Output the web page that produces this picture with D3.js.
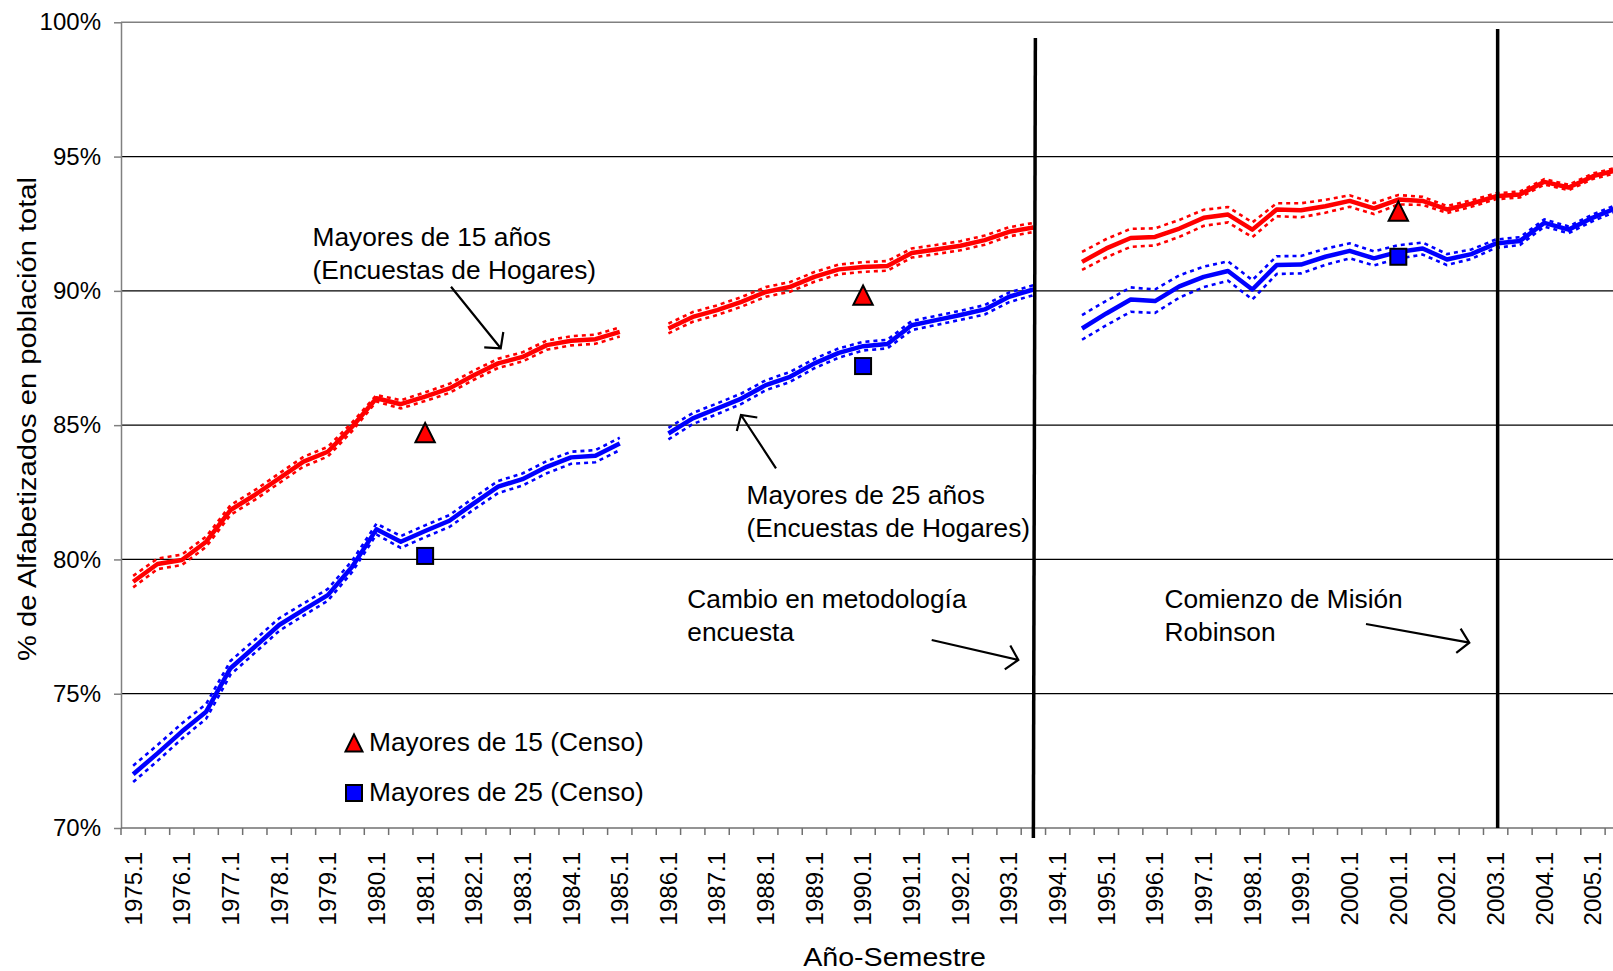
<!DOCTYPE html>
<html><head><meta charset="utf-8">
<script src="https://cdn.jsdelivr.net/npm/d3@7"></script>
<style>
body{margin:0;background:#fff}
svg{display:block}
text{font-family:"Liberation Sans",Arial,Helvetica,sans-serif;fill:#000}
</style>
</head><body>
<svg id="chart" width="1613" height="971"></svg>
<script>
// ---------------- DATA ----------------
const categories = [
 "1975.1","1975.2","1976.1","1976.2","1977.1","1977.2","1978.1","1978.2","1979.1","1979.2",
 "1980.1","1980.2","1981.1","1981.2","1982.1","1982.2","1983.1","1983.2","1984.1","1984.2",
 "1985.1","1985.2","1986.1","1986.2","1987.1","1987.2","1988.1","1988.2","1989.1","1989.2",
 "1990.1","1990.2","1991.1","1991.2","1992.1","1992.2","1993.1","1993.2","1994.1","1994.2",
 "1995.1","1995.2","1996.1","1996.2","1997.1","1997.2","1998.1","1998.2","1999.1","1999.2",
 "2000.1","2000.2","2001.1","2001.2","2002.1","2002.2","2003.1","2003.2","2004.1","2004.2",
 "2005.1","2005.2"];

const tickLabels = ["1975.1","1976.1","1977.1","1978.1","1979.1","1980.1","1981.1","1982.1","1983.1","1984.1",
 "1985.1","1986.1","1987.1","1988.1","1989.1","1990.1","1991.1","1992.1","1993.1","1994.1","1995.1",
 "1996.1","1997.1","1998.1","1999.1","2000.1","2001.1","2002.1","2003.1","2004.1","2005.1"];

const yTicks = [70, 75, 80, 85, 90, 95, 100];

// Mayores de 15 años (Encuestas de Hogares)
const may15 = [79.17,79.83,79.98,80.66,81.84,82.40,83.02,83.64,84.01,84.94,
 86.00,85.78,86.06,86.37,86.86,87.30,87.54,87.98,88.14,88.20,
 88.47,null,88.60,89.03,89.28,89.59,89.96,90.15,90.52,90.80,
 90.89,90.93,91.41,91.54,91.68,91.89,92.20,92.36,null,91.08,
 91.58,91.97,92.01,92.32,92.72,92.84,92.28,93.03,93.00,93.15,
 93.35,93.07,93.40,93.35,93.03,93.25,93.52,93.59,94.06,93.85,
 94.27,94.50];
const may15Sup = [79.39,80.03,80.18,80.85,82.02,82.58,83.20,83.82,84.19,85.10,
 86.12,85.93,86.22,86.54,87.03,87.47,87.71,88.15,88.31,88.37,
 88.64,null,88.78,89.21,89.46,89.77,90.14,90.33,90.70,90.98,
 91.07,91.11,91.58,91.71,91.85,92.06,92.37,92.53,null,91.45,
 91.93,92.31,92.33,92.64,93.02,93.12,92.55,93.26,93.26,93.39,
 93.56,93.27,93.57,93.50,93.16,93.37,93.63,93.70,94.16,93.95,
 94.37,94.60];
const may15Inf = [78.96,79.64,79.79,80.47,81.66,82.22,82.84,83.46,83.83,84.78,
 85.88,85.62,85.90,86.20,86.69,87.13,87.37,87.81,87.97,88.03,
 88.30,null,88.42,88.85,89.10,89.41,89.78,89.97,90.34,90.62,
 90.71,90.75,91.24,91.37,91.51,91.72,92.03,92.19,null,90.78,
 91.25,91.64,91.69,92.01,92.42,92.55,92.00,92.78,92.74,92.91,
 93.13,92.86,93.22,93.20,92.90,93.13,93.41,93.48,93.96,93.75,
 94.17,94.40];

// Mayores de 25 años (Encuestas de Hogares)
const may25 = [72.00,72.78,73.59,74.33,75.95,76.75,77.56,78.12,78.67,79.73,
 81.12,80.66,81.06,81.44,82.09,82.71,82.99,83.45,83.80,83.86,
 84.32,null,84.69,85.25,85.62,85.99,86.49,86.80,87.30,87.69,
 87.94,88.02,88.72,88.91,89.10,89.31,89.78,90.05,null,88.60,
 89.16,89.68,89.62,90.17,90.52,90.74,90.05,90.96,90.98,91.27,
 91.49,91.21,91.45,91.58,91.17,91.37,91.76,91.86,92.53,92.28,
 92.73,93.10];
const may25Sup = [72.32,73.09,73.89,74.62,76.22,77.01,77.81,78.36,78.90,79.95,
 81.33,80.87,81.27,81.65,82.30,82.92,83.20,83.66,84.01,84.07,
 84.53,null,84.90,85.45,85.81,86.18,86.67,86.98,87.47,87.86,
 88.10,88.18,88.88,89.07,89.26,89.47,89.94,90.21,null,89.10,
 89.63,90.13,90.05,90.58,90.90,91.10,90.40,91.29,91.30,91.57,
 91.77,91.47,91.70,91.80,91.37,91.54,91.91,92.00,92.66,92.40,
 92.85,93.22];
const may25Inf = [71.71,72.50,73.32,74.07,75.71,76.52,77.34,77.91,78.46,79.53,
 80.93,80.43,80.83,81.21,81.86,82.47,82.75,83.21,83.56,83.62,
 84.07,null,84.47,85.04,85.41,85.79,86.30,86.61,87.12,87.51,
 87.78,87.86,88.54,88.73,88.92,89.12,89.58,89.84,null,88.18,
 88.72,89.22,89.18,89.75,90.14,90.38,89.68,90.63,90.65,90.97,
 91.21,90.95,91.20,91.35,90.96,91.19,91.60,91.71,92.39,92.15,
 92.60,92.97];

// Censos
const censoCats = ["1981.1", "1990.1", "2001.1"];
const censo15 = [84.72, 89.84, 92.97];
const censo25 = [80.13, 87.20, 91.27];

// Event markers (vertical lines)
const eventCats = ["1993.2", "2003.1"];

// ---------------- CHART ----------------
const FONT = '"Liberation Sans",Arial,Helvetica,sans-serif';
const RED = "#ff0000", BLUE = "#0000ff";
const M = {left: 121, top: 22.3, bottom: 828};
const step = 24.33;
const svg = d3.select("#chart");

const x = d3.scaleBand().domain(categories)
  .range([M.left, M.left + step * categories.length]).padding(0);
const y = d3.scaleLinear().domain([70, 100]).range([M.bottom, M.top]);
const cx = c => x(c) + x.bandwidth() / 2;
const xEnd = x.range()[1];

// gridlines
svg.append("g").selectAll("line")
  .data(yTicks.filter(v => v > 70 && v < 100)).join("line")
  .attr("x1", M.left).attr("x2", xEnd)
  .attr("y1", d => y(d)).attr("y2", d => y(d))
  .attr("stroke", "#000").attr("stroke-width", 1.3);
// top border of plot area
svg.append("line").attr("x1", M.left).attr("x2", xEnd)
  .attr("y1", y(100)).attr("y2", y(100))
  .attr("stroke", "#808080").attr("stroke-width", 1.5);

// y axis
const gy = svg.append("g").attr("transform", `translate(${M.left},0)`)
  .call(d3.axisLeft(y).tickValues(yTicks).tickFormat(d => d + "%")
        .tickSize(7).tickSizeOuter(0).tickPadding(13));
gy.attr("font-size", 24).attr("font-family", FONT);
gy.select(".domain").attr("stroke", "#808080").attr("stroke-width", 1.5);
gy.selectAll(".tick line").attr("stroke", "#808080").attr("stroke-width", 1.5);
gy.selectAll(".tick text").attr("fill", "#000");

// x axis (labels)
const gx = svg.append("g").attr("transform", `translate(0,${M.bottom})`)
  .call(d3.axisBottom(x).tickValues(tickLabels).tickSize(0).tickPadding(0));
gx.attr("font-size", 24).attr("font-family", FONT);
gx.select(".domain").remove();
gx.selectAll(".tick text")
  .attr("x", 0).attr("y", 0).attr("dy", "0.35em")
  .attr("text-anchor", "end").attr("fill", "#000")
  .attr("transform", "translate(0,24) rotate(-90)");
// x axis line and tick marks between categories
svg.append("line").attr("x1", M.left).attr("x2", xEnd)
  .attr("y1", M.bottom).attr("y2", M.bottom)
  .attr("stroke", "#707070").attr("stroke-width", 1.5);
svg.append("g").selectAll("line")
  .data(categories.concat(["__end"])).join("line")
  .attr("x1", d => d === "__end" ? xEnd : x(d))
  .attr("x2", d => d === "__end" ? xEnd : x(d))
  .attr("y1", M.bottom).attr("y2", M.bottom + 7)
  .attr("stroke", "#707070").attr("stroke-width", 1.5);

// series
const toPts = arr => categories.map((c, i) => ({c, v: arr[i]}));
const line = d3.line().defined(d => d.v != null).x(d => cx(d.c)).y(d => y(d.v));

const bands = [[may15Sup, RED], [may15Inf, RED], [may25Sup, BLUE], [may25Inf, BLUE]];
svg.append("g").selectAll("path").data(bands).join("path")
  .attr("d", d => line(toPts(d[0])))
  .attr("fill", "none").attr("stroke", d => d[1])
  .attr("stroke-width", 2.6).attr("stroke-dasharray", "4,4");

const mains = [[may15, RED], [may25, BLUE]];
svg.append("g").selectAll("path").data(mains).join("path")
  .attr("d", d => line(toPts(d[0])))
  .attr("fill", "none").attr("stroke", d => d[1])
  .attr("stroke-width", 4.5).attr("stroke-linejoin", "round");

// vertical event lines (hand-drawn in original, slightly offset)
svg.append("line")
  .attr("x1", cx(eventCats[0]) + 2).attr("y1", 38)
  .attr("x2", cx(eventCats[0])).attr("y2", 838)
  .attr("stroke", "#000").attr("stroke-width", 3.5);
svg.append("line")
  .attr("x1", cx(eventCats[1]) + 2).attr("y1", 29)
  .attr("x2", cx(eventCats[1]) + 2).attr("y2", M.bottom)
  .attr("stroke", "#000").attr("stroke-width", 3.5);

// census markers
const tri = s => `M0,${-s}L${s},${s}L${-s},${s}Z`;
svg.append("g").selectAll("path").data(censoCats).join("path")
  .attr("transform", (c, i) => `translate(${cx(c)},${y(censo15[i])})`)
  .attr("d", tri(9.7)).attr("fill", RED).attr("stroke", "#000").attr("stroke-width", 2);
svg.append("g").selectAll("rect").data(censoCats).join("rect")
  .attr("x", (c) => cx(c) - 8).attr("y", (c, i) => y(censo25[i]) - 8)
  .attr("width", 16).attr("height", 16)
  .attr("fill", BLUE).attr("stroke", "#000").attr("stroke-width", 2);

// legend
svg.append("path").attr("transform", "translate(354,743)")
  .attr("d", tri(8.5)).attr("fill", RED).attr("stroke", "#000").attr("stroke-width", 2);
svg.append("rect").attr("x", 346).attr("y", 785).attr("width", 16).attr("height", 16)
  .attr("fill", BLUE).attr("stroke", "#000").attr("stroke-width", 2);
svg.append("text").attr("x", 369).attr("y", 751).attr("font-size", 26.3).text("Mayores de 15 (Censo)");
svg.append("text").attr("x", 369).attr("y", 800.5).attr("font-size", 26.3).text("Mayores de 25 (Censo)");

// annotations
function note(xp, yp, lines) {
  const t = svg.append("text").attr("x", xp).attr("y", yp).attr("font-size", 26.3);
  lines.forEach((s, i) => t.append("tspan").attr("x", xp).attr("y", yp + i * 32.5).text(s));
}
note(312.5, 246, ["Mayores de 15 años", "(Encuestas de Hogares)"]);
note(746.5, 504.3, ["Mayores de 25 años", "(Encuestas de Hogares)"]);
note(687.3, 608.3, ["Cambio en metodología", "encuesta"]);
note(1164.5, 608.3, ["Comienzo de Misión", "Robinson"]);

function arrow(x1, y1, x2, y2) {
  const a = Math.atan2(y2 - y1, x2 - x1), L = 16.5, t = 48 * Math.PI / 180;
  const p1 = [x2 - L * Math.cos(a - t), y2 - L * Math.sin(a - t)];
  const p2 = [x2 - L * Math.cos(a + t), y2 - L * Math.sin(a + t)];
  svg.append("path")
    .attr("d", `M${x1},${y1}L${x2},${y2}M${p1[0]},${p1[1]}L${x2},${y2}L${p2[0]},${p2[1]}`)
    .attr("fill", "none").attr("stroke", "#000").attr("stroke-width", 2.2);
}
arrow(451, 286.7, 500.7, 348.3);
arrow(776, 468.3, 741, 415);
arrow(931.7, 640, 1018.3, 660);
arrow(1366, 624, 1469.3, 642.7);

// axis titles
svg.append("text").attr("text-anchor", "middle").attr("font-size", 26)
  .attr("transform", "translate(36,419) rotate(-90) scale(1.12,1)")
  .text("% de Alfabetizados en población total");
svg.append("text").attr("text-anchor", "middle").attr("font-size", 26)
  .attr("transform", "translate(894.6,966) scale(1.1,1)")
  .text("Año-Semestre");
</script>
</body></html>
